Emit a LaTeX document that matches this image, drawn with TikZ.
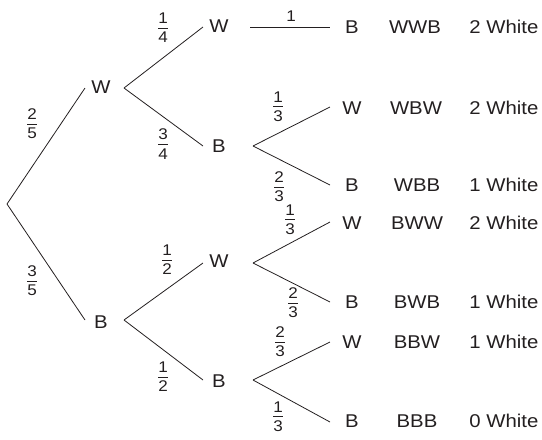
\documentclass[tikz,border=0pt]{standalone}
\usepackage{fontspec}
\setmainfont{Liberation Sans}[FakeStretch=1.1]
\definecolor{ink}{RGB}{35,31,32}
\newcommand\labfont{\fontsize{18.5}{20}\selectfont}
\newcommand\fracfont{\fontsize{15.5}{17}\selectfont}
\newcommand\fr[2]{\vbox{\halign{\hfil##\hfil\cr #1\cr\noalign{\kern3.8pt\hrule height 0.8pt\kern3.8pt}#2\cr}}}
\begin{document}
\begin{tikzpicture}[x=1pt,y=-1pt,line width=0.8pt,color=ink,
  lab/.style={inner sep=0pt,font=\labfont},
  cnt/.style={inner sep=0pt,font=\labfont,anchor=west},
  frc/.style={inner sep=0pt,font=\fracfont}]
\useasboundingbox (0,0) rectangle (542,440);
\coordinate (r) at (7,204);
% level 1
\node[lab] (W1) at (101,87) {W};
\node[lab] (B1) at (101,322) {B};
% level 2
\node[lab] (WW) at (219,26) {W};
\node[lab] (WB) at (219,146) {B};
\node[lab] (BW) at (219,261) {W};
\node[lab] (BB) at (219,381) {B};
% leaves
\node[lab] (WWB) at (352,27) {B};
\node[lab] (WBW) at (352,108) {W};
\node[lab] (WBB) at (352,185) {B};
\node[lab] (BWW) at (352,223) {W};
\node[lab] (BWB) at (352,302) {B};
\node[lab] (BBW) at (352,342) {W};
\node[lab] (BBB) at (352,421) {B};
% outcomes
\node[lab] (cWWB) at (415,27) {WWB};
\node[lab] (cWBW) at (416,108) {WBW};
\node[lab] (cWBB) at (417,185) {WBB};
\node[lab] (cBWW) at (417,223) {BWW};
\node[lab] (cBWB) at (417,302) {BWB};
\node[lab] (cBBW) at (417,342) {BBW};
\node[lab] (cBBB) at (417,421) {BBB};
\node[cnt] (nWWB) at (469,27) {2 White};
\node[cnt] (nWBW) at (469,108) {2 White};
\node[cnt] (nWBB) at (469,185) {1 White};
\node[cnt] (nBWW) at (469,223) {2 White};
\node[cnt] (nBWB) at (469,302) {1 White};
\node[cnt] (nBBW) at (469,342) {1 White};
\node[cnt] (nBBB) at (469,421) {0 White};
% connectors
\draw (r) -- ([xshift=-16pt,yshift=-1pt]W1.center);
\draw (r) -- ([xshift=-16pt,yshift=2pt]B1.center);
\draw ([xshift=23pt,yshift=-1pt]W1.center) -- ([xshift=-16pt,yshift=-1pt]WW.center);
\draw ([xshift=23pt,yshift=-1pt]W1.center) -- ([xshift=-16pt]WB.center);
\draw ([xshift=23pt,yshift=2pt]B1.center) -- ([xshift=-16pt,yshift=-2pt]BW.center);
\draw ([xshift=23pt,yshift=2pt]B1.center) -- ([xshift=-16pt,yshift=1pt]BB.center);
\draw ([xshift=31pt,yshift=-1pt]WW.center) -- ([xshift=-22pt]WWB.center);
\draw ([xshift=34pt]WB.center) -- ([xshift=-22pt,yshift=1pt]WBW.center);
\draw ([xshift=34pt]WB.center) -- ([xshift=-22pt]WBB.center);
\draw ([xshift=34pt,yshift=-2pt]BW.center) -- ([xshift=-22pt,yshift=1pt]BWW.center);
\draw ([xshift=34pt,yshift=-2pt]BW.center) -- ([xshift=-22pt]BWB.center);
\draw ([xshift=34pt,yshift=1pt]BB.center) -- ([xshift=-22pt]BBW.center);
\draw ([xshift=34pt,yshift=1pt]BB.center) -- ([xshift=-22pt,yshift=-1pt]BBB.center);
% probabilities
\node[frc] (p1) at (32,124) {\fr{2}{5}};
\node[frc] (p2) at (32,281) {\fr{3}{5}};
\node[frc] (p3) at (163,28) {\fr{1}{4}};
\node[frc] (p4) at (163,144) {\fr{3}{4}};
\node[frc] (p5) at (167,260) {\fr{1}{2}};
\node[frc] (p6) at (163,377) {\fr{1}{2}};
\node[frc] (p7) at (291,16) {1};
\node[frc] (p8) at (278,107) {\fr{1}{3}};
\node[frc] (p9) at (279,187) {\fr{2}{3}};
\node[frc] (p10) at (290,220) {\fr{1}{3}};
\node[frc] (p11) at (293,303) {\fr{2}{3}};
\node[frc] (p12) at (280,342) {\fr{2}{3}};
\node[frc] (p13) at (278,417) {\fr{1}{3}};
\end{tikzpicture}
\end{document}
